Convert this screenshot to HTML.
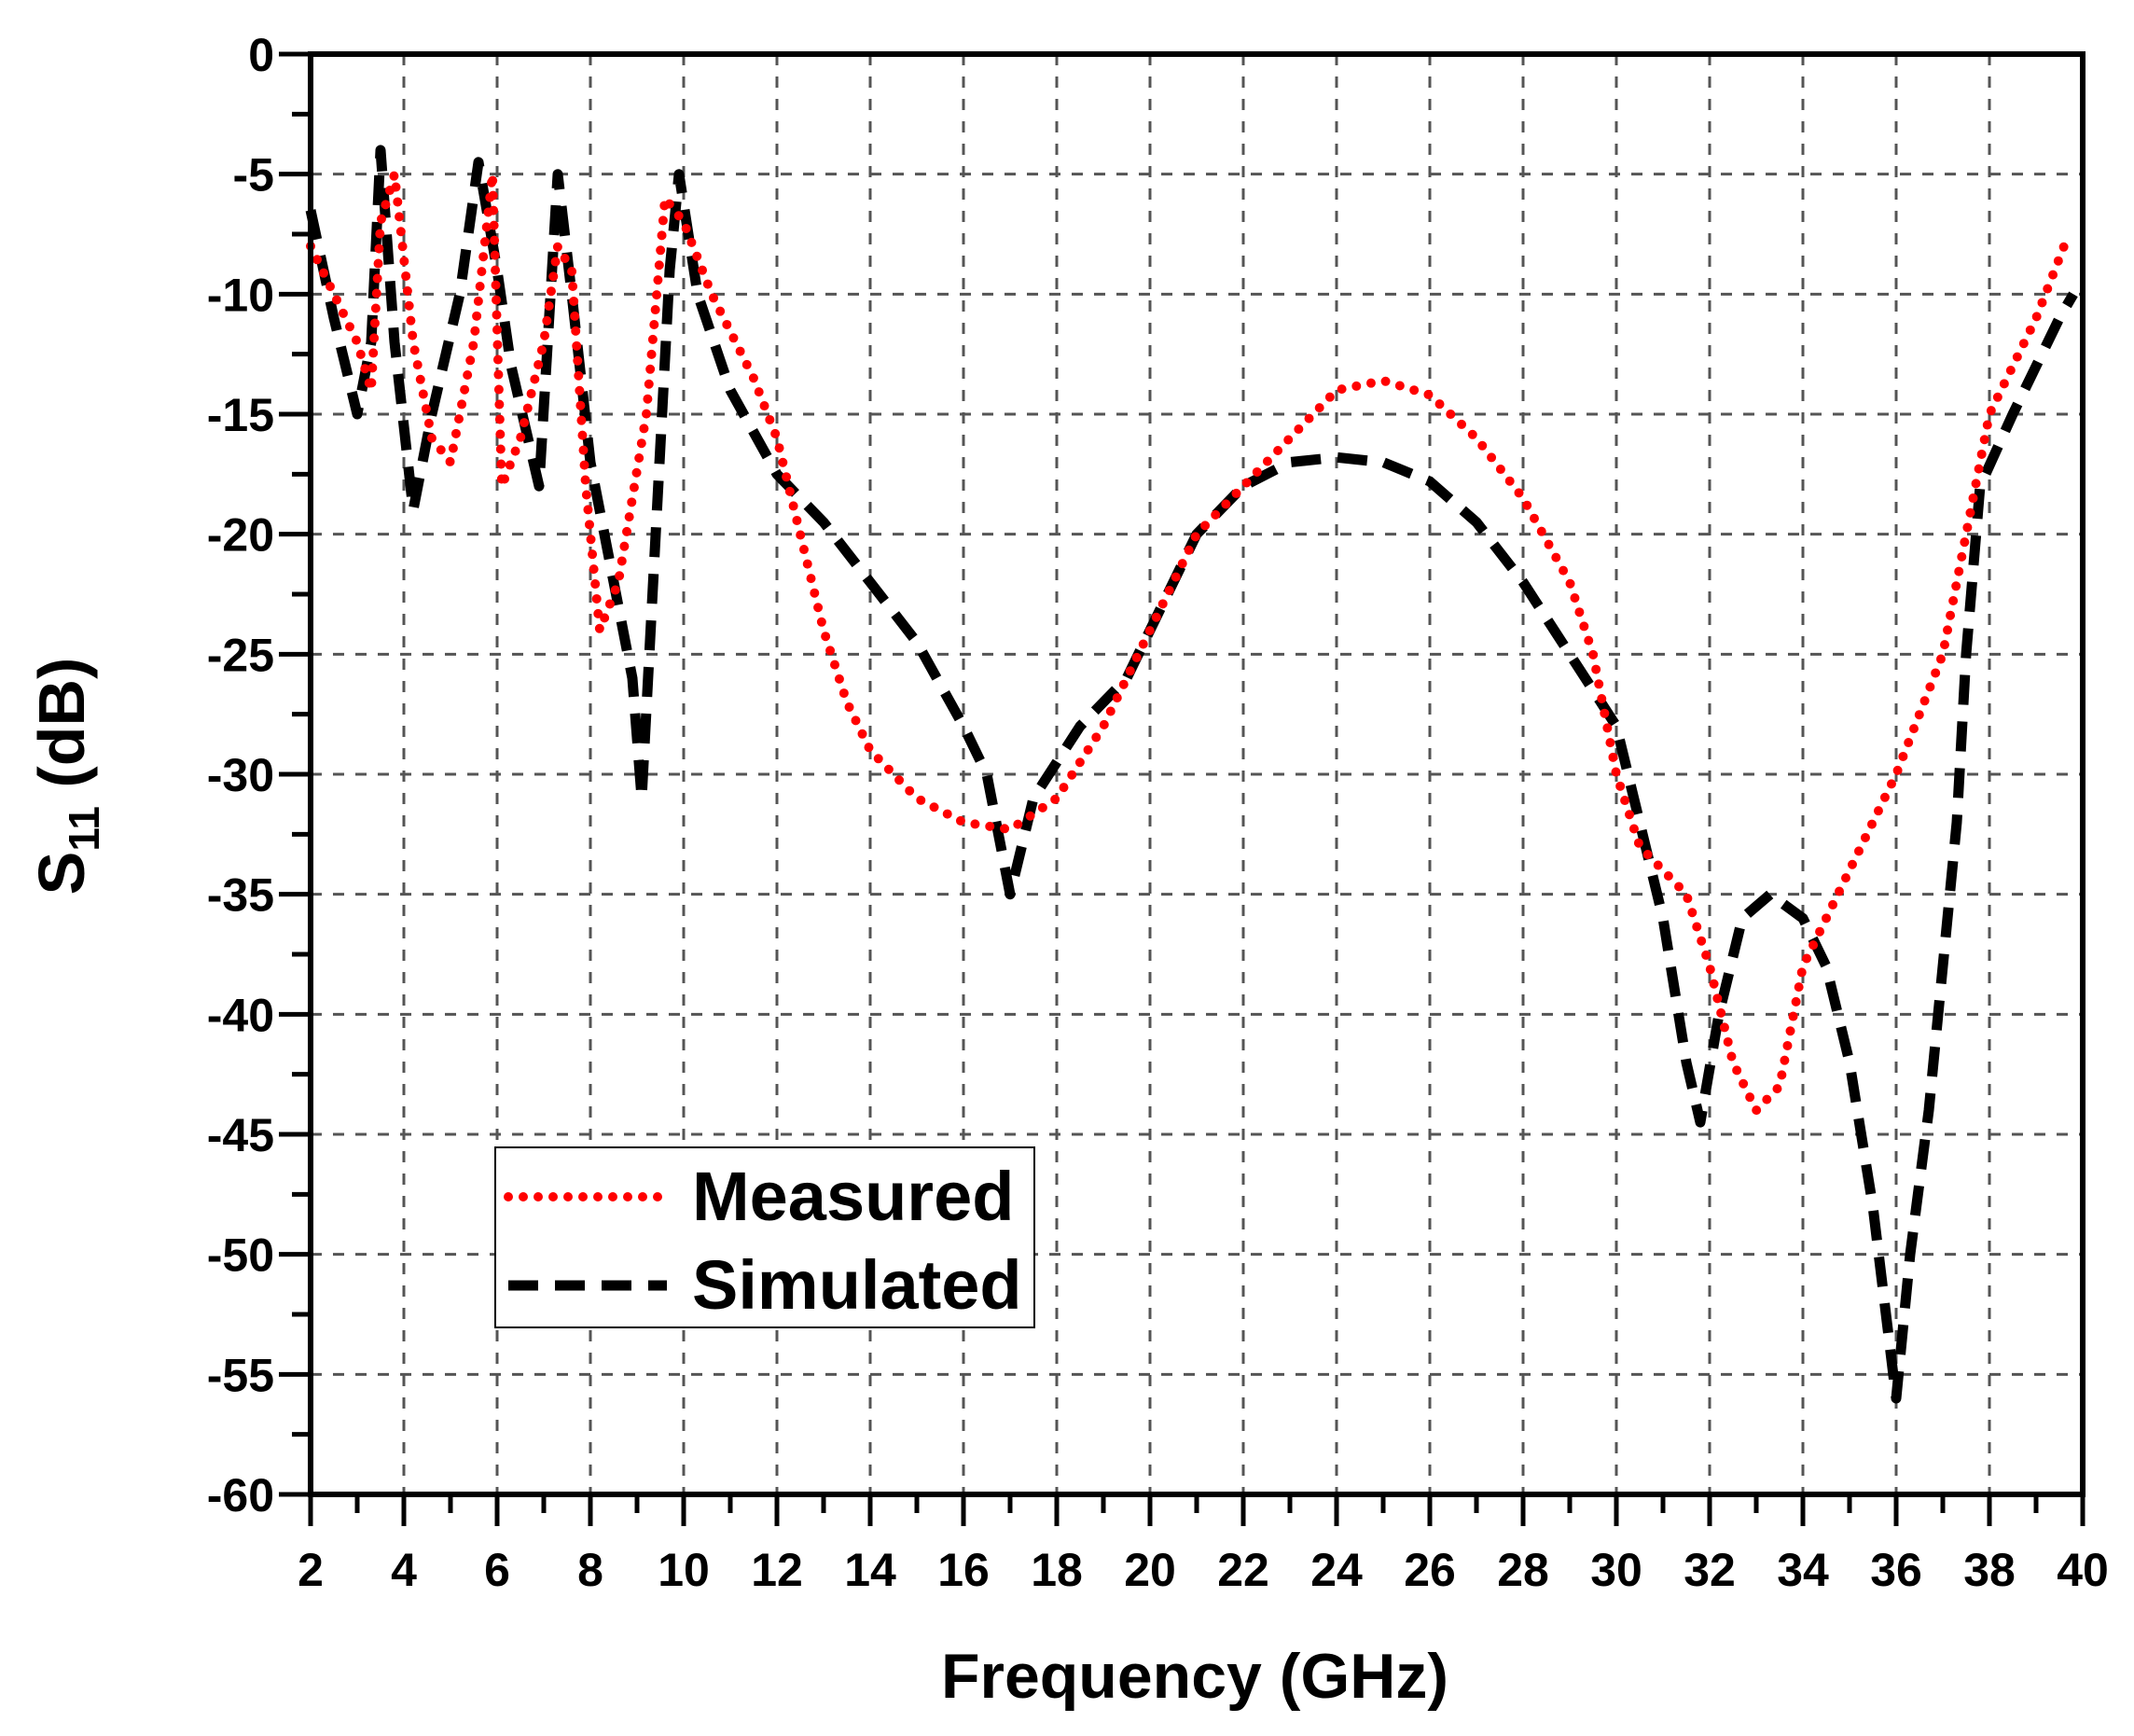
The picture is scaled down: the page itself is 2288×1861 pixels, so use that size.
<!DOCTYPE html>
<html><head><meta charset="utf-8"><style>
body{margin:0;background:#fff}
svg{display:block;font-family:"Liberation Sans",Arial,sans-serif;font-weight:bold}
</style></head><body>
<svg id="chart" width="2288" height="1861" viewBox="0 0 2288 1861" xmlns="http://www.w3.org/2000/svg">
<g id="grid"></g>
<g id="series"></g>
<g id="axes"></g>
<text x="1281" y="1820" font-size="68" text-anchor="middle">Frequency (GHz)</text>
<text transform="translate(90,832) rotate(-90)" font-size="70" text-anchor="middle">S<tspan font-size="46" dy="16">11</tspan><tspan dy="-16"> (dB)</tspan></text>
<g>
<rect x="531" y="1230" width="578" height="193" fill="#fff" stroke="#000" stroke-width="2"/>
<line x1="545" y1="1283" x2="715" y2="1283" stroke="#f00" stroke-width="10" stroke-linecap="round" stroke-dasharray="0 16"/>
<text x="742" y="1308" font-size="74">Measured</text>
<line x1="545" y1="1378" x2="715" y2="1378" stroke="#000" stroke-width="11" stroke-dasharray="32 18"/>
<text x="742" y="1403" font-size="74">Simulated</text>
</g>
</svg>
<script>
const xTicks=[2,4,6,8,10,12,14,16,18,20,22,24,26,28,30,32,34,36,38,40];
const yTicks=[0,-5,-10,-15,-20,-25,-30,-35,-40,-45,-50,-55,-60];
const measuredF=[2,2.5,3,3.3,3.5,3.8,4.2,4.6,5,5.5,5.9,6.1,6.5,7,7.3,7.6,7.9,8.2,8.6,9.2,9.6,10,10.6,11.5,12,12.5,13,13.5,14,15,16,17,18,19,20,21,22,23,24,25,26,27,28,29,29.5,30,30.5,31.5,32,32.5,33,33.5,34,35,36,37,38,39,39.7];
const measuredDB=[-8,-10,-12,-14,-7,-5,-12,-16,-17,-12,-5,-18,-16,-12,-8,-9,-18,-24,-22,-15,-6,-7,-10,-13.5,-16,-20,-24,-27,-29,-31,-32,-32.3,-31,-28,-24,-20,-18,-16,-14,-13.6,-14.2,-16,-18.5,-22,-25,-30,-33,-35,-38,-42,-44,-43,-38,-34,-30,-25,-15,-11,-7.5];
const simulatedF=[2,2.5,3,3.3,3.5,3.8,4.2,4.6,5.2,5.6,6,6.3,6.9,7.3,7.6,8,8.5,8.9,9.1,9.4,9.7,9.9,10.3,11,12,13,14,15,16,16.5,17,17.5,18.5,19.5,20,21,22,23,24,25,26,27,28,29,30,30.5,31,31.5,31.8,32.2,32.7,33.3,34,34.5,35,35.5,36,36.3,36.7,37,37.3,37.5,37.8,38.5,39.5,39.8];
const simulatedDB=[-6.5,-11,-15,-12,-4,-12,-19,-15,-10,-4.5,-9,-13,-18,-5,-10,-17,-22,-26,-31,-20,-9,-5,-10,-14,-17.5,-19.5,-22,-24.5,-28,-30,-35,-31,-28,-26,-24,-20,-18,-17,-16.8,-17,-17.8,-19.5,-22,-25,-28,-32,-36,-42,-44.5,-40,-36,-35,-36,-38,-42,-48,-56,-50,-44,-38,-32,-25,-18,-15,-11,-10];
const X0=333,X1=2233,Y0=58,Y1=1602;
const sx=f=>X0+(f-2)/38*(X1-X0);
const sy=d=>Y0+(0-d)/60*(Y1-Y0);
const NS='http://www.w3.org/2000/svg';
function mk(tag,attrs,parent){const e=document.createElementNS(NS,tag);for(const k in attrs)e.setAttribute(k,attrs[k]);parent.appendChild(e);return e;}
const grid=document.getElementById('grid'),axes=document.getElementById('axes'),series=document.getElementById('series');
xTicks.forEach(f=>{
 if(f>2&&f<40){const g=mk('line',{x1:sx(f),y1:Y0,x2:sx(f),y2:Y1,stroke:'#555','stroke-width':3,'stroke-dasharray':'12 12'},grid);
 
 }
 const t=mk('line',{x1:sx(f),y1:Y1,x2:sx(f),y2:Y1+34,stroke:'#000','stroke-width':5},axes);
 
 
 const l=mk('text',{x:sx(f),y:1700,'font-size':50,'text-anchor':'middle'},axes);l.textContent=f;
 
 
 if(f<40){const m=mk('line',{x1:sx(f+1),y1:Y1,x2:sx(f+1),y2:Y1+20,stroke:'#000','stroke-width':5},axes);
 
 }
});
yTicks.forEach(d=>{
 if(d<0&&d>-60){const g=mk('line',{x1:X0,y1:sy(d),x2:X1,y2:sy(d),stroke:'#555','stroke-width':3,'stroke-dasharray':'12 12'},grid);
 
 }
 const t=mk('line',{x1:X0-34,y1:sy(d),x2:X0,y2:sy(d),stroke:'#000','stroke-width':5},axes);
 
 
 const l=mk('text',{x:294,y:sy(d)+18,'font-size':50,'text-anchor':'end'},axes);l.textContent=d;
 
 
 if(d>-60){const m=mk('line',{x1:X0-20,y1:sy(d-2.5),x2:X0,y2:sy(d-2.5),stroke:'#000','stroke-width':5},axes);
 
 }
});
const frame=mk('rect',{x:X0,y:Y0,width:X1-X0,height:Y1-Y0,fill:'none',stroke:'#000','stroke-width':6},axes);


function path(F,D){return F.map((f,i)=>(i?'L':'M')+sx(f).toFixed(1)+','+sy(D[i]).toFixed(1)).join(' ');}
const sim=mk('path',{d:path(simulatedF,simulatedDB),fill:'none',stroke:'#000','stroke-width':11,'stroke-dasharray':'32 18','stroke-linejoin':'round'},series);


const meas=mk('path',{d:path(measuredF,measuredDB),fill:'none',stroke:'#f00','stroke-width':10,'stroke-linecap':'round','stroke-dasharray':'0 16'},series);


</script>
</body></html>
